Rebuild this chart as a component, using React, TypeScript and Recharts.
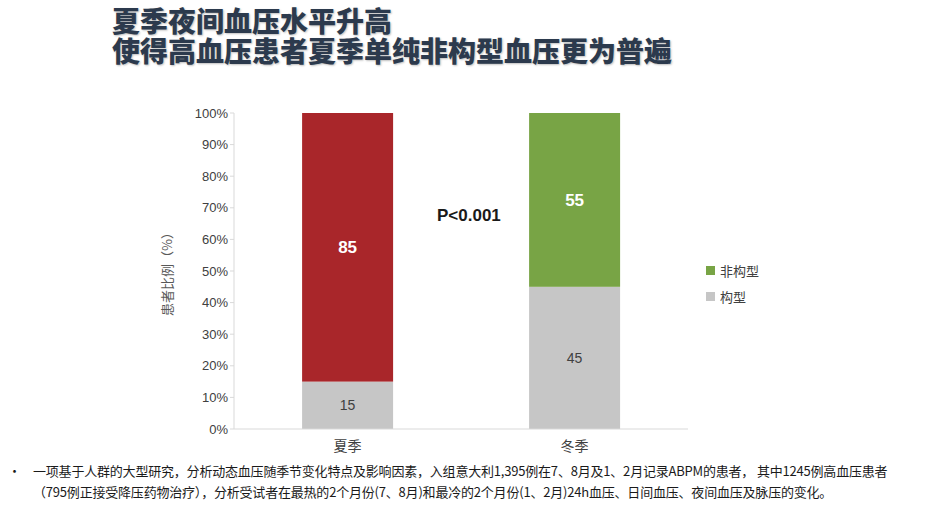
import React from 'react';
import {
  BarChart,
  Bar,
  XAxis,
  YAxis,
  LabelList,
} from 'recharts';

const seasons = ['夏季', '冬季'];
const dipperValues = [15, 45];
const nonDipperValues = [85, 55];
const yTicks = [0, 10, 20, 30, 40, 50, 60, 70, 80, 90, 100];
const nonDipperColors = ['#a9262a', '#78a445'];

const SERIES = [
  { key: 'dipper', name: '构型', color: '#c6c6c6' },
  { key: 'nonDipper', name: '非构型', color: '#78a445' },
];

const data = seasons.map((season, i) => ({
  season,
  dipper: dipperValues[i],
  nonDipper: nonDipperValues[i],
}));

const FONT = '"Noto Sans CJK SC", "Noto Sans", sans-serif';
const LATIN = '"Liberation Sans", Arial, sans-serif';

const App: React.FC = () => {
  return (
    <div
      style={{
        position: 'absolute',
        left: 0,
        top: 0,
        width: 929,
        height: 509,
        background: '#ffffff',
        overflow: 'hidden',
        fontFamily: FONT,
      }}
    >
      {/* title, two lines */}
      {['夏季夜间血压水平升高', '使得高血压患者夏季单纯非构型血压更为普遍'].map((line, i) => (
        <div
          key={line}
          style={{
            position: 'absolute',
            left: 112,
            top: 5 + i * 30,
            height: 30,
            fontSize: 28,
            lineHeight: '30px',
            fontWeight: 900,
            color: '#2c3a4d',
            textShadow: '1px 1px 2px rgba(0,0,0,0.25)',
            whiteSpace: 'nowrap',
          }}
        >
          {line}
        </div>
      ))}

      <BarChart
        width={929}
        height={509}
        data={data}
        margin={{ top: 113, right: 241, bottom: 50, left: 0 }}
        barCategoryGap="30%"
        style={{ position: 'absolute', left: 0, top: 0 }}
      >
        <XAxis
          dataKey="season"
          axisLine={{ stroke: '#d9d9d9' }}
          tickLine={false}
          tick={{ fill: '#404040', fontSize: 14, fontFamily: FONT }}
          tickMargin={6}
        />
        <YAxis
          width={234}
          domain={[0, 100]}
          ticks={yTicks}
          interval={0}
          tickFormatter={(v: number) => `${v}%`}
          axisLine={{ stroke: '#d9d9d9' }}
          tickLine={{ stroke: '#d9d9d9' }}
          tickSize={4}
          tick={{ fill: '#404040', fontSize: 13, fontFamily: LATIN }}
          label={{
            value: '患者比例（%）',
            angle: -90,
            position: 'insideLeft',
            dx: 162,
            dy: 0,
            style: { fill: '#595959', fontSize: 13, fontFamily: FONT, textAnchor: 'middle' },
          }}
        />
        <Bar dataKey="dipper" name="构型" stackId="a" fill="#c6c6c6" isAnimationActive={false}>
          <LabelList
            dataKey="dipper"
            position="center"
            style={{ fill: '#404040', fontSize: 14, fontFamily: LATIN }}
          />
        </Bar>
        <Bar
          dataKey="nonDipper"
          name="非构型"
          stackId="a"
          fill="#78a445"
          isAnimationActive={false}
          shape={(props: any) => (
            <rect
              x={props.x}
              y={props.y}
              width={props.width}
              height={props.height}
              fill={nonDipperColors[props.index]}
            />
          )}
        >
          <LabelList
            dataKey="nonDipper"
            position="center"
            style={{ fill: '#ffffff', fontSize: 17, fontWeight: 700, fontFamily: LATIN }}
          />
        </Bar>
      </BarChart>

      <div
        style={{
          position: 'absolute',
          left: 706,
          top: 257,
          fontSize: 13,
          color: '#404040',
        }}
      >
        {[...SERIES].reverse().map((s) => (
          <div key={s.key} style={{ display: 'flex', alignItems: 'center', height: 26 }}>
            <span
              style={{ width: 9, height: 9, backgroundColor: s.color, marginRight: 5, display: 'inline-block' }}
            />
            {s.name}
          </div>
        ))}
      </div>

      <div
        style={{
          position: 'absolute',
          left: 437,
          top: 206,
          fontSize: 17,
          fontWeight: 700,
          color: '#1a1a1a',
          fontFamily: LATIN,
        }}
      >
        P&lt;0.001
      </div>

      <div
        style={{
          position: 'absolute',
          left: 8,
          top: 460,
          fontSize: 13,
          lineHeight: '21px',
          color: '#1a1a1a',
          display: 'flex',
          whiteSpace: 'nowrap',
          letterSpacing: -0.2,
        }}
      >
        <span style={{ width: 25, flexShrink: 0 }}>•</span>
        <span>
          一项基于人群的大型研究，分析动态血压随季节变化特点及影响因素，入组意大利1,395例在7、8月及1、2月记录ABPM的患者，
          其中1245例高血压患者
          <br />
          （795例正接受降压药物治疗），分析受试者在最热的2个月份(7、8月)和最冷的2个月份(1、2月)24h血压、日间血压、夜间血压及脉压的变化。
        </span>
      </div>
    </div>
  );
};

export default App;
